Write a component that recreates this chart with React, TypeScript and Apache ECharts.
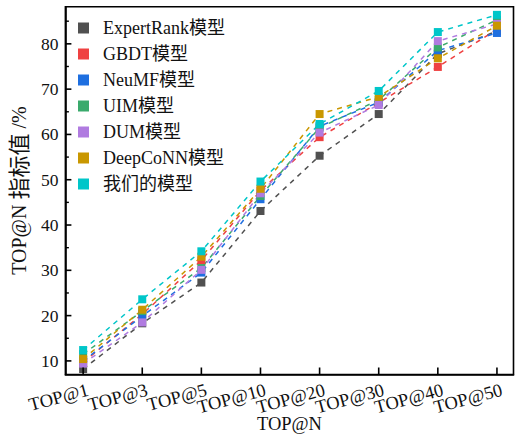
import React, { useEffect, useRef } from "react";
import * as echarts from "echarts";

const categories = ["TOP@1", "TOP@3", "TOP@5", "TOP@10", "TOP@20", "TOP@30", "TOP@40", "TOP@50"];

const seriesNames = [
  "ExpertRank模型",
  "GBDT模型",
  "NeuMF模型",
  "UIM模型",
  "DUM模型",
  "DeepCoNN模型",
  "我们的模型",
];

const expertRank = [8.2, 18.3, 27.3, 43.1, 55.3, 64.5, 77.8, 82.8];
const gbdt = [9.7, 20.3, 32.2, 47.6, 59.4, 67.0, 74.9, 83.2];
const neuMF = [10.0, 19.9, 29.5, 45.7, 61.8, 67.1, 78.5, 82.4];
const uim = [11.5, 21.0, 30.5, 46.4, 61.5, 67.6, 79.2, 85.3];
const dum = [9.4, 18.5, 30.1, 47.0, 60.4, 66.5, 80.6, 84.4];
const deepCoNN = [10.4, 21.3, 33.0, 48.0, 64.5, 68.3, 76.8, 84.0];
const ours = [12.4, 23.6, 34.2, 49.6, 62.3, 69.6, 82.6, 86.4];

const seriesValues = [expertRank, gbdt, neuMF, uim, dum, deepCoNN, ours];
const colors = ["#505050", "#EF4141", "#1E6FE0", "#3AAA6C", "#B07BE0", "#C99700", "#00C6C9"];

const yMajorTicks = [10, 20, 30, 40, 50, 60, 70, 80];
const yMinorTicks = [15, 25, 35, 45, 55, 65, 75, 85];

const X_MIN = -0.3;
const X_MAX = 7.28;
const Y_MIN = 7;
const Y_MAX = 88.2;

const FONT = "'Liberation Serif', 'Times New Roman', 'Noto Sans CJK SC', serif";

export default function App() {
  const ref = useRef<HTMLDivElement>(null);

  useEffect(() => {
    if (!ref.current) return;
    const chart = echarts.init(ref.current, undefined, { renderer: "svg" });

    chart.setOption({
      animation: false,
      backgroundColor: "#ffffff",
      grid: {
        left: 59,
        right: 3.5,
        top: 6.7,
        bottom: 62.7,
        show: true,
        borderColor: "#000",
        borderWidth: 1.6,
      },
      legend: {
        orient: "vertical",
        left: 73,
        top: 14,
        icon: "rect",
        itemWidth: 11,
        itemHeight: 11,
        itemGap: 8,
        data: seriesNames,
        textStyle: {
          fontFamily: FONT,
          fontSize: 18,
          color: "#111",
          padding: [0, 0, 0, 9],
        },
      },
      xAxis: {
        type: "value",
        min: X_MIN,
        max: X_MAX,
        splitLine: { show: false },
        axisLine: { show: true, onZero: false, lineStyle: { color: "#000", width: 1.6 } },
        axisTick: { show: false },
        axisLabel: { show: false },
        name: "TOP@N",
        nameLocation: "middle",
        nameGap: 40,
        nameTextStyle: { fontFamily: FONT, fontSize: 18.5, color: "#111" },
      },
      yAxis: {
        type: "value",
        min: Y_MIN,
        max: Y_MAX,
        splitLine: { show: false },
        axisLine: { show: true, onZero: false, lineStyle: { color: "#000", width: 1.6 } },
        axisTick: { show: false },
        axisLabel: {
          customValues: yMajorTicks,
          margin: 7,
          fontFamily: FONT,
          fontSize: 17.5,
          color: "#111",
        },
        name: "TOP@N {c|指标值} /%",
        nameLocation: "middle",
        nameGap: 31,
        nameTextStyle: {
          fontFamily: FONT,
          fontSize: 20,
          color: "#111",
          rich: { c: { fontFamily: FONT, fontSize: 22, color: "#111" } },
        },
      },
      series: seriesNames.map((name, s) => ({
        name,
        type: "line",
        data: seriesValues[s].map((v, i) => [i, v]),
        symbol: "rect",
        symbolSize: 8,
        color: colors[s],
        itemStyle: { color: colors[s] },
        lineStyle: { color: colors[s], width: 1.5, type: [5, 5] },
      })),
    });

    // inward tick marks and rotated category labels, placed through the grid's scales
    const toPx = (x: number, y: number) =>
      chart.convertToPixel({ gridIndex: 0 }, [x, y]) as number[];
    const graphics: any[] = [];
    const tickRect = (x: number, y: number, w: number, h: number) => ({
      type: "rect",
      silent: true,
      z: 10,
      shape: { x, y, width: w, height: h },
      style: { fill: "#000" },
    });
    categories.forEach((cat, i) => {
      const [px, py] = toPx(i, Y_MIN);
      graphics.push(tickRect(px - 0.8, py - 7, 1.6, 7));
      graphics.push({
        type: "text",
        silent: true,
        x: px + 5,
        y: py + 15,
        rotation: (15 * Math.PI) / 180,
        style: {
          text: cat,
          fontFamily: FONT,
          fontSize: 18.5,
          fill: "#111",
          align: "right",
          verticalAlign: "middle",
        },
      });
    });
    yMajorTicks.forEach((v) => {
      const [px, py] = toPx(X_MIN, v);
      graphics.push(tickRect(px, py - 0.8, 6, 1.6));
    });
    yMinorTicks.forEach((v) => {
      const [px, py] = toPx(X_MIN, v);
      graphics.push(tickRect(px, py - 0.7, 3.5, 1.4));
    });
    chart.setOption({ graphic: graphics });

    return () => chart.dispose();
  }, []);

  return (
    <div
      ref={ref}
      style={{ position: "fixed", left: 0, top: 0, width: 517, height: 438 }}
    />
  );
}
